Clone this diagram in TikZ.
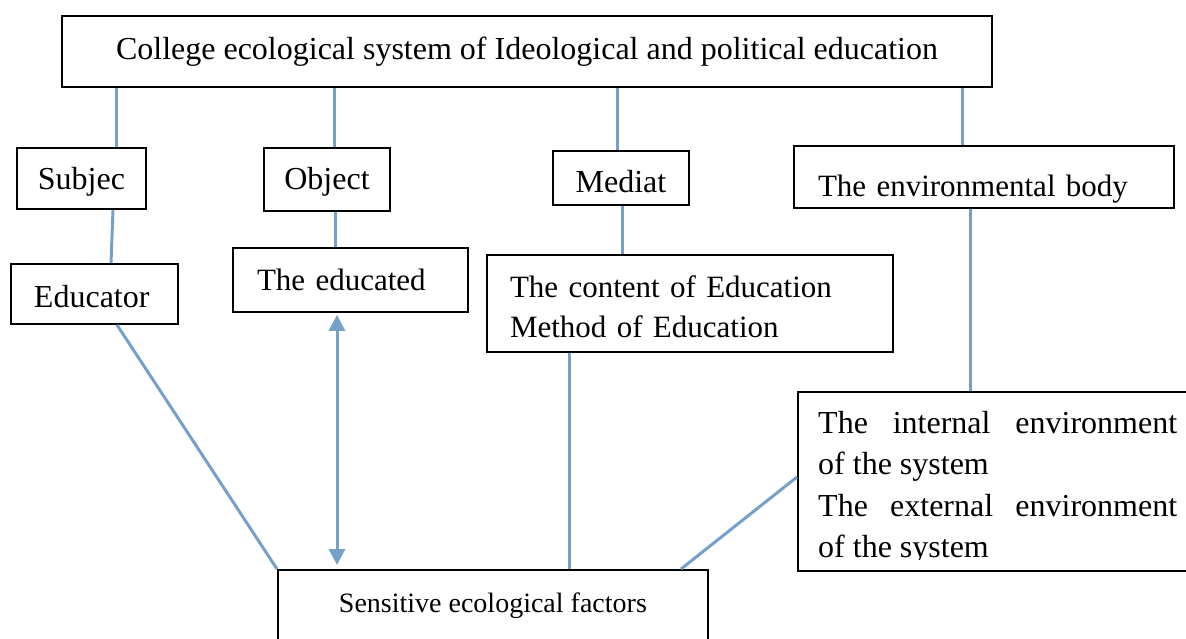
\documentclass[tikz,border=0pt]{standalone}
\usepackage{fontspec}
\setmainfont{Liberation Serif}
\usetikzlibrary{arrows.meta,calc,positioning}
\definecolor{linkblue}{RGB}{118,160,202}
\tikzset{
  box/.style={draw, line width=1.8pt, inner sep=0pt, font=\fontsize{32}{40}\selectfont, text depth=7pt},
  lbox/.style={box, align=left, inner xsep=23pt},
  small/.style={font=\fontsize{31}{40}\selectfont},
  link/.style={linkblue, line width=3pt},
  twoway/.style={{Triangle[width=16pt,length=16pt]}-{Triangle[width=16pt,length=16pt]}},
}
\begin{document}
\begin{tikzpicture}[x=1pt,y=-1pt]
\useasboundingbox (0,0) rectangle (1186,639);
\clip (0,0) rectangle (1186,639);

% where the connectors run
\coordinate (a1) at (116,0);
\coordinate (a2) at (334,0);
\coordinate (a3) at (617,0);
\coordinate (a4) at (962,0);
\coordinate (b1) at (113,0);
\coordinate (b2) at (111,0);
\coordinate (b3) at (335,0);
\coordinate (b4) at (622,0);
\coordinate (b5) at (970,0);
\coordinate (c1) at (117,0);
\coordinate (c2) at (337,0);
\coordinate (c3) at (569,0);
\coordinate (c4) at (681,0);
\coordinate (c5) at (0,477);

% boxes
\node[box, minimum width=930pt, minimum height=71pt, text height=24pt] (system) at (527,51.5) {College ecological system of Ideological and political education};

\node[box, minimum width=129pt, minimum height=61pt, text height=30pt] (subject) at (81.5,178.5) {Subjec};
\node[box, minimum width=126pt, minimum height=63pt, text height=28pt] (object) at (327,179.5) {Object};
\node[box, minimum width=136pt, minimum height=54pt, text height=37pt] (mediat) at (621,178) {Mediat};
\node[lbox, small, inner xsep=24pt, text width=332pt, minimum height=62pt, text height=47pt] (envbody) at (984,177) {The environmental body};

\node[lbox, text width=121pt, minimum height=60pt, text height=33pt] (educator) at (94.5,294) {Educator};
\node[lbox, small, inner xsep=24pt, text width=187pt, minimum height=64pt, text height=27pt] (educated) at (350.5,280) {The educated};
\node[lbox, small, text width=360pt, minimum height=97pt, text height=22pt, text depth=35pt] (content) at (690,303.5) {The content of Education\\Method of Education};

\node[box, anchor=north west, minimum width=420pt, minimum height=179pt] (inenv) at (797,391) {};
\begin{scope}
  \clip (797,391) rectangle (1186,559);
  \node[anchor=north west, inner sep=0pt, text width=359pt, align=justify, text height=22pt, font=\fontsize{32}{41.5}\selectfont] (inenvtext) at (818,411) {The internal environment\linebreak of the system\\The external environment\linebreak of the system};
\end{scope}

\node[box, anchor=north west, minimum width=430pt, minimum height=100pt, text height=20pt, text depth=34pt, font=\fontsize{28}{34}\selectfont] (sens) at (277,569) {Sensitive ecological factors};

% connectors
\draw[link] (system.south -| a1) -- (subject.north -| a1);
\draw[link] (system.south -| a2) -- (object.north -| a2);
\draw[link] (system.south -| a3) -- (mediat.north -| a3);
\draw[link] (system.south -| a4) -- (envbody.north -| a4);

\draw[link] (subject.south -| b1) -- (educator.north -| b2);
\draw[link] (object.south -| b3) -- (educated.north -| b3);
\draw[link] (mediat.south -| b4) -- (content.north -| b4);
\draw[link] (envbody.south -| b5) -- (inenv.north -| b5);

\draw[link] (educator.south -| c1) -- (sens.north west);
\draw[link, twoway, shorten <=2pt, shorten >=4pt] (educated.south -| c2) -- (sens.north -| c2);
\draw[link] (content.south -| c3) -- (sens.north -| c3);
\draw[link] (sens.north -| c4) -- (inenv.west |- c5);
\end{tikzpicture}
\end{document}
